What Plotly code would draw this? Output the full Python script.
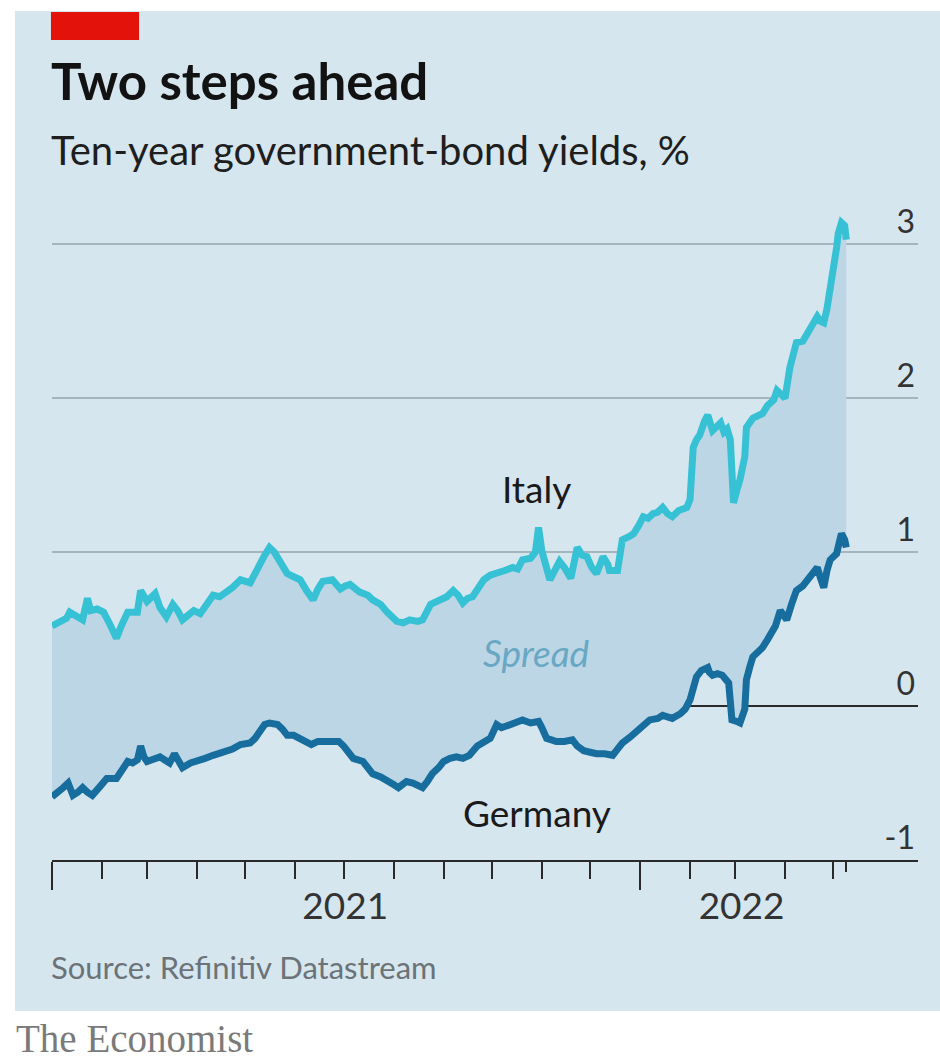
import pandas as pd
import plotly.graph_objects as go

# Ten-year government-bond yields, %. Observations are indexed by days since 1 Jan 2021.
START = pd.Timestamp("2021-01-01")

italy_day = [
    0, 7, 9, 11, 16, 19, 22, 24, 28, 32,
    36, 40, 43, 47, 53, 55, 59, 64, 67, 71,
    75, 78, 81, 88, 92, 96, 100, 104, 109, 112,
    117, 123, 126, 129, 132, 135, 138, 142, 146, 150,
    154, 158, 162, 165, 168, 174, 179, 182, 185, 191,
    196, 199, 204, 208, 214, 218, 222, 227, 230, 235,
    241, 245, 249, 252, 255, 258, 261, 264, 268, 272,
    276, 281, 286, 289, 292, 297, 300, 302, 304, 307,
    309, 312, 315, 318, 322, 326, 329, 332, 335, 338,
    342, 345, 346, 351, 354, 358, 361, 364, 367, 370,
    373, 376, 379, 382, 385, 389, 392, 394, 396, 398,
    400, 402, 405, 407, 410, 413, 415, 417, 419, 421,
    423, 425, 427, 430, 431, 435, 438, 441, 444, 448,
    450, 453, 455, 458, 462, 466, 469, 472, 475, 477,
    479, 481, 483, 485, 487, 488, 490, 492, 493,
]
italy_yield = [
    0.52, 0.55, 0.57, 0.61, 0.58, 0.56, 0.70, 0.62, 0.63, 0.61,
    0.53, 0.44, 0.52, 0.61, 0.61, 0.75, 0.68, 0.73, 0.64, 0.58,
    0.66, 0.62, 0.56, 0.62, 0.60, 0.66, 0.72, 0.71, 0.74, 0.77,
    0.82, 0.80, 0.86, 0.93, 0.98, 1.03, 1.00, 0.93, 0.86, 0.84,
    0.82, 0.75, 0.69, 0.76, 0.81, 0.82, 0.76, 0.78, 0.79, 0.74,
    0.72, 0.69, 0.66, 0.61, 0.55, 0.54, 0.56, 0.55, 0.56, 0.66,
    0.69, 0.71, 0.75, 0.72, 0.67, 0.70, 0.71, 0.76, 0.82, 0.85,
    0.86, 0.88, 0.90, 0.89, 0.95, 0.96, 1.00, 1.16, 1.01, 0.90,
    0.82, 0.88, 0.94, 0.90, 0.83, 1.03, 0.98, 0.97, 0.90, 0.86,
    0.97, 0.92, 0.88, 0.88, 1.08, 1.10, 1.12, 1.17, 1.23, 1.22,
    1.25, 1.26, 1.29, 1.25, 1.23, 1.27, 1.29, 1.29, 1.34, 1.68,
    1.73, 1.76, 1.85, 1.89, 1.79, 1.82, 1.84, 1.78, 1.80, 1.73,
    1.32, 1.40, 1.47, 1.62, 1.81, 1.87, 1.88, 1.90, 1.95, 1.99,
    2.05, 2.02, 2.00, 2.20, 2.36, 2.37, 2.43, 2.47, 2.53, 2.50,
    2.49, 2.58, 2.70, 2.85, 2.98, 3.07, 3.14, 3.12, 3.03,
]

germany_day = [
    0, 4, 7, 10, 13, 16, 19, 22, 25, 30,
    34, 40, 43, 47, 50, 53, 55, 57, 59, 63,
    67, 70, 73, 76, 79, 81, 86, 90, 95, 100,
    104, 109, 112, 117, 123, 126, 129, 132, 135, 140,
    143, 146, 150, 154, 158, 161, 165, 168, 174, 178,
    181, 184, 187, 193, 196, 199, 204, 208, 212, 215,
    218, 220, 224, 227, 230, 233, 236, 240, 243, 247,
    251, 255, 259, 264, 268, 272, 276, 279, 282, 286,
    289, 292, 297, 302, 304, 307, 310, 313, 318, 323,
    326, 330, 334, 338, 343, 348, 351, 354, 359, 363,
    367, 371, 376, 379, 382, 385, 390, 393, 396, 398,
    400, 403, 407, 408, 410, 413, 416, 420, 421, 422,
    425, 427, 430, 431, 433, 435, 438, 441, 444, 446,
    449, 452, 454, 456, 459, 462, 466, 469, 472, 475,
    477, 479, 481, 483, 485, 487, 489, 490, 492, 493,
]
germany_yield = [
    -0.59, -0.56, -0.53, -0.50, -0.58, -0.56, -0.53, -0.56, -0.58, -0.52,
    -0.47, -0.47, -0.42, -0.36, -0.37, -0.35, -0.26, -0.33, -0.36, -0.34,
    -0.33, -0.35, -0.37, -0.31, -0.36, -0.40, -0.37, -0.36, -0.34, -0.32,
    -0.31, -0.29, -0.28, -0.25, -0.24, -0.21, -0.17, -0.12, -0.11, -0.12,
    -0.15, -0.19, -0.19, -0.21, -0.23, -0.25, -0.23, -0.23, -0.22, -0.23,
    -0.26, -0.31, -0.34, -0.36, -0.40, -0.44, -0.46, -0.48, -0.51, -0.53,
    -0.50, -0.49, -0.50, -0.51, -0.53, -0.49, -0.44, -0.40, -0.36, -0.34,
    -0.33, -0.34, -0.32, -0.26, -0.24, -0.21, -0.12, -0.14, -0.13, -0.11,
    -0.10, -0.09, -0.11, -0.10, -0.14, -0.21, -0.22, -0.23, -0.23, -0.22,
    -0.26, -0.29, -0.30, -0.31, -0.31, -0.32, -0.28, -0.24, -0.20, -0.16,
    -0.12, -0.09, -0.08, -0.06, -0.07, -0.08, -0.05, -0.02, 0.04, 0.14,
    0.19, 0.23, 0.25, 0.22, 0.20, 0.21, 0.20, 0.15, 0.05, -0.09,
    -0.10, -0.11, -0.02, 0.17, 0.25, 0.32, 0.35, 0.38, 0.43, 0.47,
    0.52, 0.62, 0.59, 0.56, 0.66, 0.75, 0.78, 0.82, 0.86, 0.90,
    0.83, 0.77, 0.88, 0.95, 0.97, 0.99, 1.08, 1.12, 1.08, 1.03,
]

# Axis ticks and labels
year_starts = ["2021-01-01", "2022-01-01"]
month_ticks = [
    "2021-02-01", "2021-03-01", "2021-04-01", "2021-05-01", "2021-06-01",
    "2021-07-01", "2021-08-01", "2021-09-01", "2021-10-01", "2021-11-01",
    "2021-12-01", "2022-02-01", "2022-03-01", "2022-04-01", "2022-05-01",
]
year_labels = ["2021", "2022"]
year_label_at = ["2021-07-02", "2022-03-05"]
y_ticks = [-1, 0, 1, 2, 3]
y_tick_text = ["-1", "0", "1", "2", "3"]

italy_dates = START + pd.to_timedelta(italy_day, unit="D")
germany_dates = START + pd.to_timedelta(germany_day, unit="D")
last_obs = [germany_dates[-1]]

X_RANGE = ["2021-01-01", "2022-06-22 12:00"]

BG = "#d6e6ef"
SPREAD = "#bcd6e5"
ITALY = "#37c1d4"
GERMANY = "#176d9d"
INK = "#2a2a2a"
SANS = "Lato, 'Open Sans', sans-serif"

fig = go.Figure()

fig.add_trace(go.Scatter(
    x=germany_dates, y=germany_yield, mode="lines", name="Germany",
    line=dict(color=GERMANY, width=7), hoverinfo="skip",
))
fig.add_trace(go.Scatter(
    x=italy_dates, y=italy_yield, mode="lines", name="Italy",
    line=dict(color=ITALY, width=7), fill="tonexty", fillcolor=SPREAD,
    hoverinfo="skip",
))
# carriers for the overlay axes (year labels, last-observation tick)
fig.add_trace(go.Scatter(x=[], y=[], xaxis="x2", hoverinfo="skip"))
fig.add_trace(go.Scatter(x=[], y=[], xaxis="x3", hoverinfo="skip"))

fig.update_layout(
    width=940, height=1060,
    margin=dict(l=52, r=22, t=198, b=200, pad=0),
    paper_bgcolor="white", plot_bgcolor="rgba(0,0,0,0)",
    showlegend=False,
    font=dict(family=SANS, color=INK),
    xaxis=dict(
        type="date", range=X_RANGE, anchor="y",
        showgrid=False, zeroline=False,
        showline=True, linecolor=INK, linewidth=2,
        tickmode="array", tickvals=year_starts, showticklabels=False,
        ticks="outside", ticklen=28, tickwidth=2, tickcolor=INK,
        minor=dict(tickmode="array", tickvals=month_ticks, ticks="outside",
                   ticklen=17, tickwidth=2, tickcolor=INK, showgrid=False),
    ),
    xaxis2=dict(
        type="date", range=X_RANGE, overlaying="x", anchor="y", side="bottom",
        showgrid=False, zeroline=False, showline=False,
        tickmode="array", tickvals=year_label_at, ticktext=year_labels,
        ticks="outside", ticklen=14, tickcolor="rgba(0,0,0,0)",
        tickfont=dict(family=SANS, size=37, color="#333333"),
    ),
    xaxis3=dict(
        type="date", range=X_RANGE, overlaying="x", anchor="y", side="bottom",
        showgrid=False, zeroline=False, showline=False,
        tickmode="array", tickvals=last_obs, showticklabels=False,
        ticks="outside", ticklen=11, tickwidth=2, tickcolor=INK,
    ),
    yaxis=dict(
        range=[-1, 3.3], side="right",
        tickmode="array", tickvals=y_ticks, ticktext=y_tick_text,
        ticks="", ticklabelposition="inside top",
        tickfont=dict(family=SANS, size=32, color="#333333"),
        showgrid=True, gridcolor="#a5b5be", gridwidth=2,
        zeroline=True, zerolinecolor=INK, zerolinewidth=2,
        showline=False,
    ),
)

# panel background, red flag
fig.add_shape(type="rect", xref="paper", yref="paper", layer="below",
              x0=-0.0427, x1=1.03, y0=-0.2281, y1=1.2825,
              fillcolor=BG, line=dict(width=0))
fig.add_shape(type="rect", xref="paper", yref="paper", layer="below",
              x0=-0.0012, x1=0.1005, y0=1.2387, y1=1.2810,
              fillcolor="#e3120b", line=dict(width=0))

# title block
fig.add_annotation(text="<b>Two steps ahead</b>", xref="paper", yref="paper",
                   x=-0.003, y=1.178, xanchor="left", yanchor="middle",
                   showarrow=False, font=dict(family=SANS, size=51, color="#121212"))
fig.add_annotation(text="Ten-year government-bond yields, %", xref="paper", yref="paper",
                   x=-0.003, y=1.072, xanchor="left", yanchor="middle",
                   showarrow=False, font=dict(family=SANS, size=40, color="#1e1e1e"))

# series labels
fig.add_annotation(text="Italy", x="2021-10-29", y=1.41, xref="x", yref="y",
                   showarrow=False, font=dict(family=SANS, size=37, color="#1a1a1a"))
fig.add_annotation(text="<i>Spread</i>", x="2021-10-29", y=0.35, xref="x", yref="y",
                   showarrow=False, font=dict(family=SANS, size=37, color="#68a8c4"))
fig.add_annotation(text="Germany", x="2021-10-29", y=-0.69, xref="x", yref="y",
                   showarrow=False, font=dict(family=SANS, size=37, color="#1a1a1a"))

# footer
fig.add_annotation(text="Source: Refinitiv Datastream", xref="paper", yref="paper",
                   x=-0.003, y=-0.162, xanchor="left", yanchor="middle",
                   showarrow=False, font=dict(family=SANS, size=31, color="#6b7378"))
fig.add_annotation(text="The Economist", xref="paper", yref="paper",
                   x=-0.0439, y=-0.270, xanchor="left", yanchor="middle",
                   showarrow=False,
                   font=dict(family="'Liberation Serif', 'DejaVu Serif', serif", size=39,
                             color="#7a7a7a"))

fig.write_html("out.html")
